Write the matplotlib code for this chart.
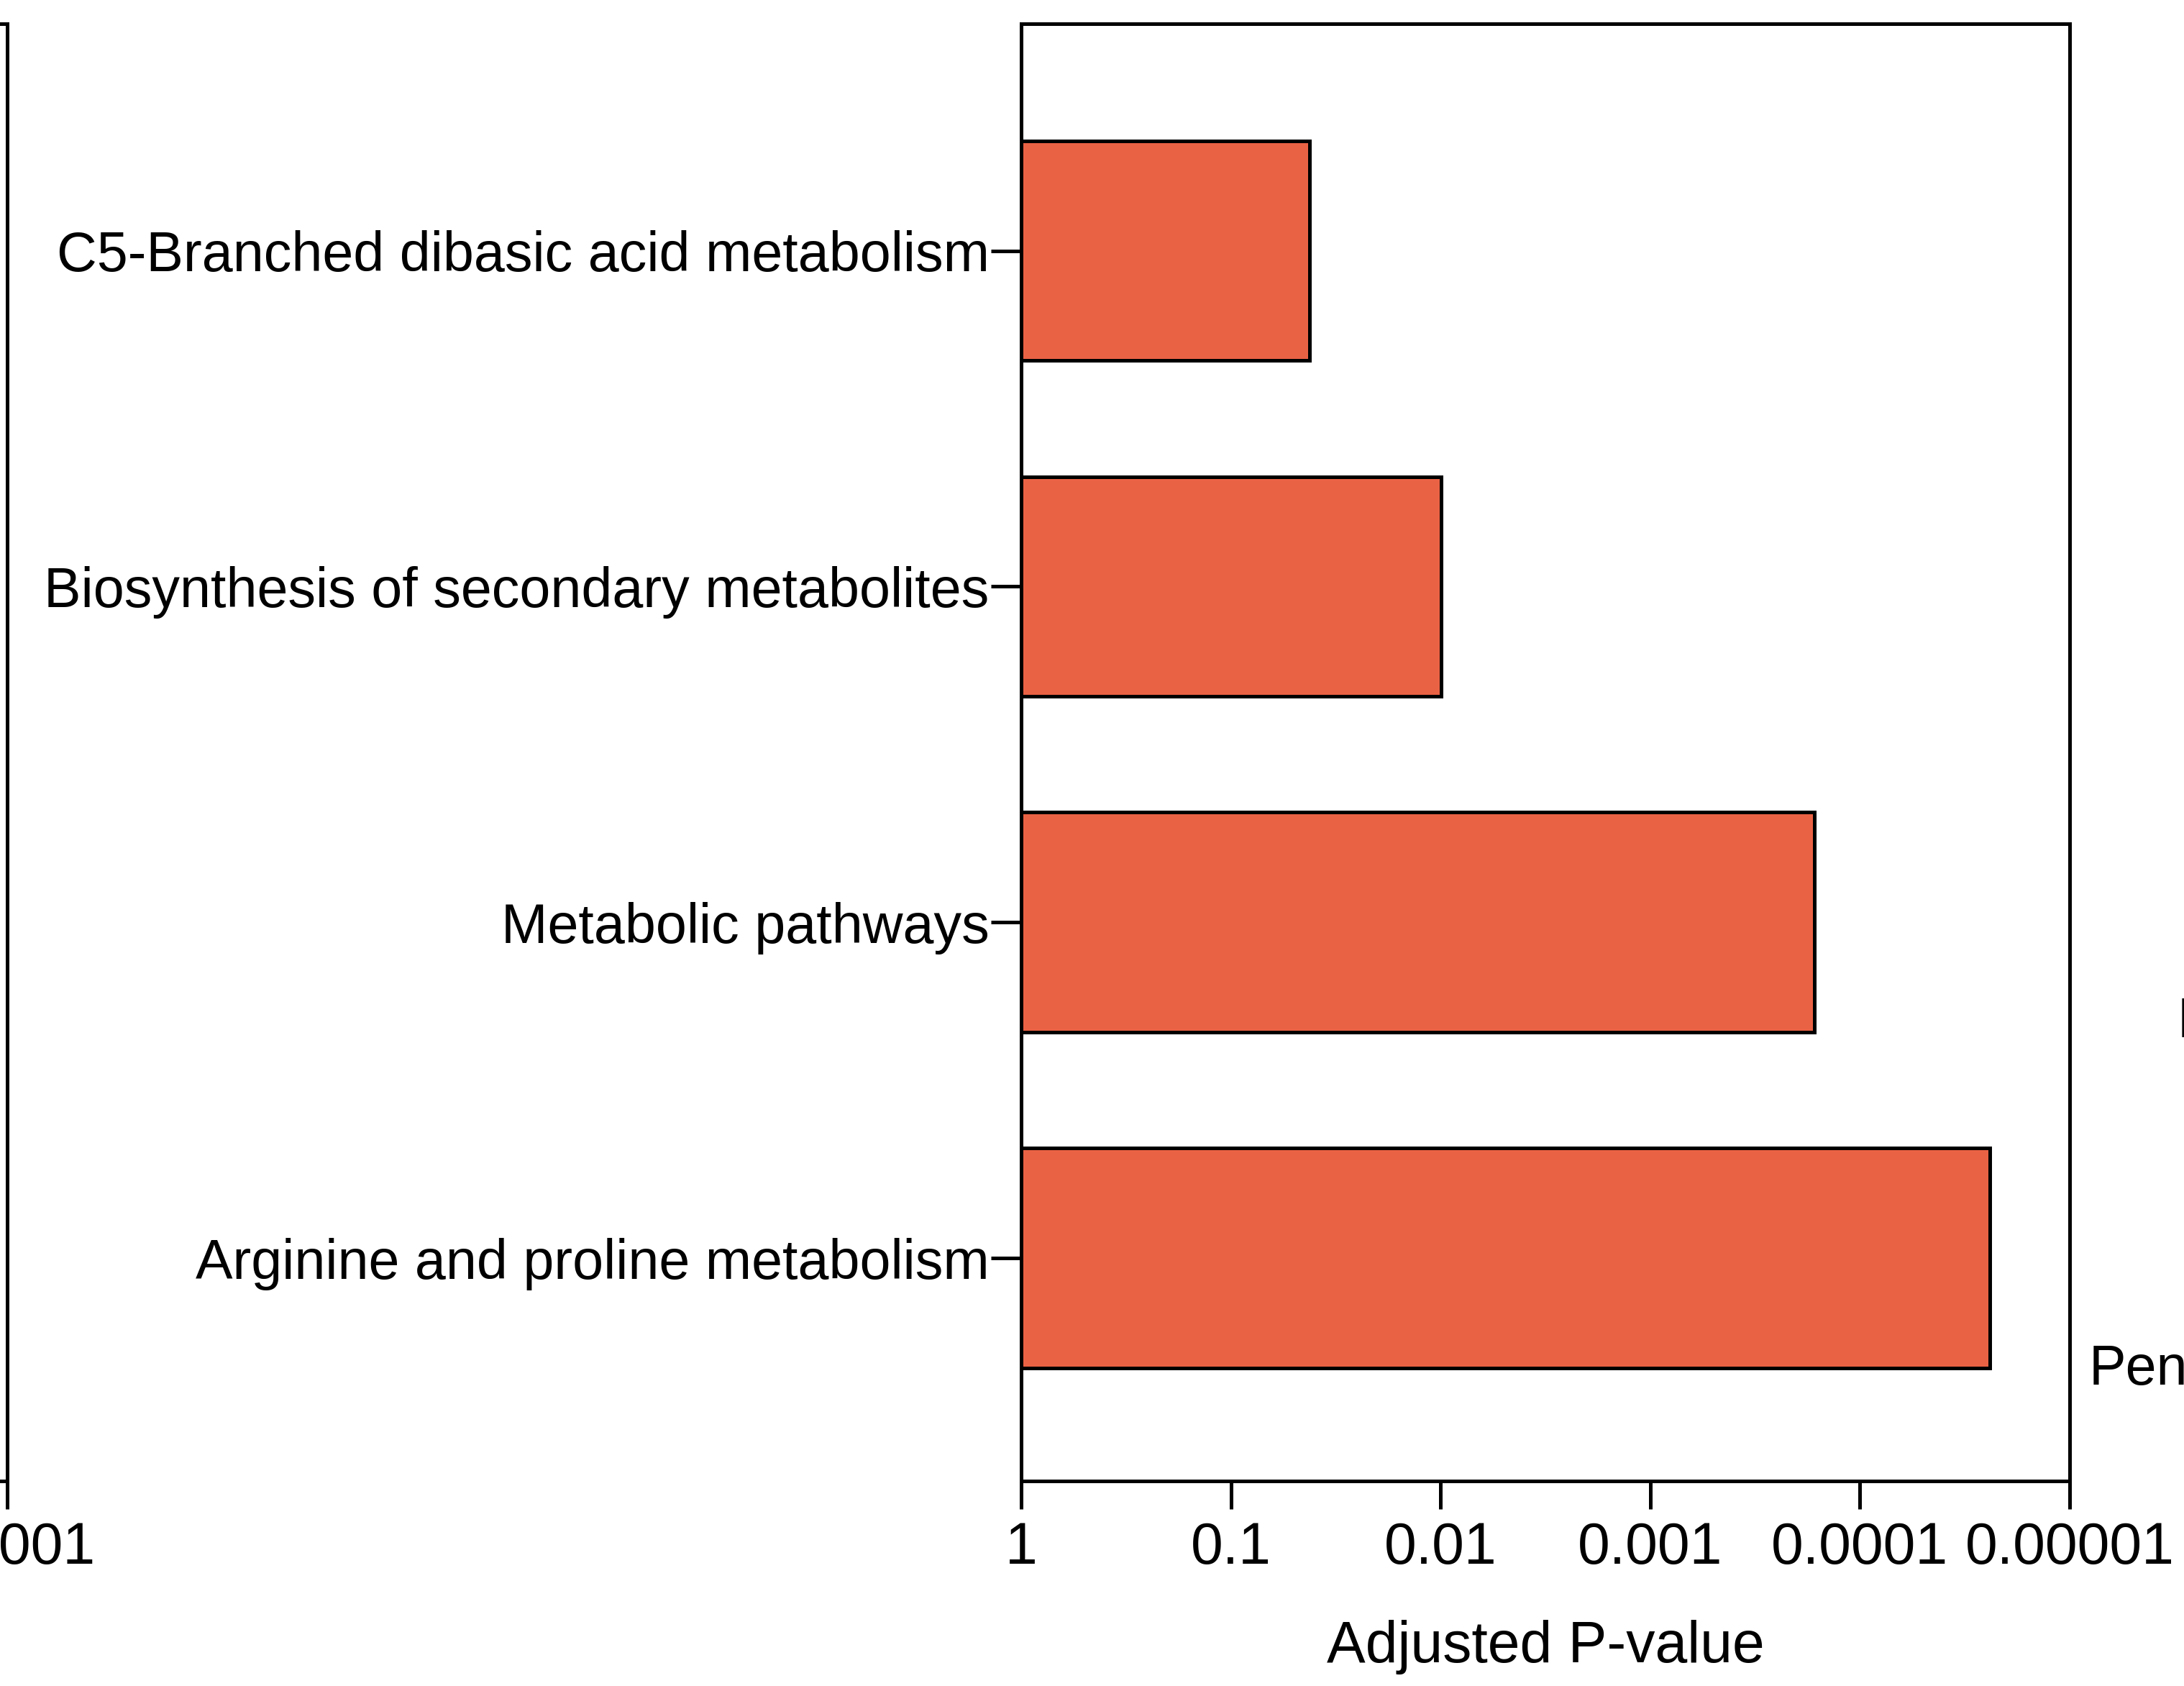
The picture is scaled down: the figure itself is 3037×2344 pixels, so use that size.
import matplotlib.pyplot as plt
import numpy as np

# Pathway enrichment (top to bottom as drawn)
pathways = [
    "C5-Branched dibasic acid metabolism",
    "Biosynthesis of secondary metabolites",
    "Metabolic pathways",
    "Arginine and proline metabolism",
]
adj_pvalues = [0.042, 0.0099, 1.65e-4, 2.4e-5]

xtick_values = [1, 0.1, 0.01, 0.001, 0.0001, 0.00001]
xtick_labels = ["1", "0.1", "0.01", "0.001", "0.0001", "0.00001"]

# neighbouring panels, only partly visible in the crop
left_panel_tick = [0.0001]
left_panel_label = ["0.0001"]
right_panel_labels = ["Pen", "B"]

W, H = 3037, 2344
DPI = 200
BAR_COLOR = "#EA6244"

plt.rcParams["font.family"] = ["Liberation Sans", "DejaVu Sans"]
plt.rcParams["font.size"] = 29
plt.rcParams["axes.linewidth"] = 1.8


def px(x0, y0, x1, y1):
    # pixel box (top-left origin) -> figure fraction rect
    return [x0 / W, 1 - y1 / H, (x1 - x0) / W, (y1 - y0) / H]


def main():
    fig = plt.figure(figsize=(W / DPI, H / DPI), dpi=DPI)

    # main panel
    ax = fig.add_axes(px(1420, 33, 2878, 2059))
    y = np.arange(len(pathways))[::-1]
    p = np.array(adj_pvalues)
    ax.barh(y, 1 - p, left=p, height=0.655, color=BAR_COLOR,
            edgecolor="black", linewidth=1.8)
    ax.set_xscale("log")
    ax.set_xlim(1, 1e-5)
    ax.set_ylim(-0.664, 3.676)
    ax.set_xticks(xtick_values)
    ax.set_xticklabels(xtick_labels)
    ax.minorticks_off()
    ax.set_yticks(y)
    ax.set_yticklabels(pathways, fontsize=27.8)
    ax.tick_params(axis="x", length=14, width=1.8, pad=6)
    ax.tick_params(axis="y", length=15, width=1.8, pad=1)
    ax.set_xlabel("Adjusted P-value", labelpad=22)

    # left neighbour panel (cut off by the crop)
    axl = fig.add_axes(px(-1400, 33, 10, 2059))
    axl.set_xscale("log")
    axl.set_xlim(1, 1e-4)
    axl.set_ylim(0, 1)
    axl.set_xticks(left_panel_tick)
    axl.set_xticklabels(left_panel_label)
    axl.minorticks_off()
    axl.set_yticks([])
    axl.tick_params(axis="x", length=14, width=1.8, pad=6)

    # right neighbour panel labels (cut off by the crop)
    fig.text(2905 / W, 1 - 1904 / H, right_panel_labels[0], ha="left", va="center",
             fontsize=27.8)
    fig.text(3028 / W, 1 - 1422 / H, right_panel_labels[1], ha="left", va="center",
             fontsize=27.8)

    fig.savefig("out.png", dpi=DPI)


if __name__ == "__main__":
    main()
